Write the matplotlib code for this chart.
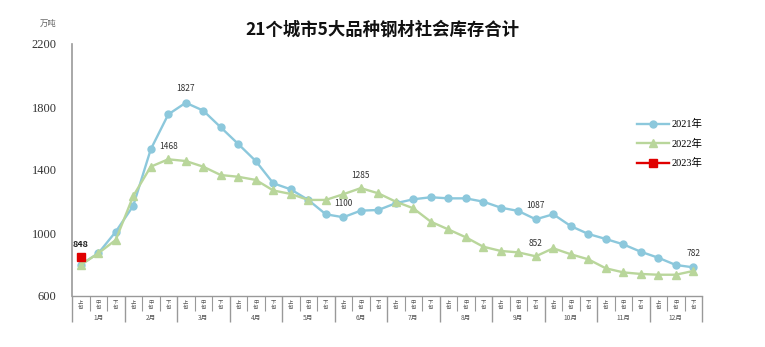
import matplotlib
matplotlib.use("Agg")
import matplotlib.pyplot as plt
import matplotlib.transforms as mtransforms

plt.rcParams['font.family'] = ['Noto Sans CJK SC', 'DejaVu Sans']

months = [f"{m}月" for m in range(1, 13)]
periods = ["上\n旬", "中\n旬", "下\n旬"]

s2021 = [800, 871, 1008, 1173, 1531, 1753, 1827, 1777, 1671, 1565,
         1457, 1316, 1277, 1210, 1119, 1100, 1142, 1146, 1189, 1214,
         1227, 1220, 1220, 1199, 1161, 1140, 1087, 1119, 1044, 994,
         962, 928, 881, 843, 797, 782]
s2022 = [797, 871, 956, 1235, 1421, 1468, 1457, 1421, 1368, 1357,
         1337, 1270, 1248, 1210, 1210, 1246, 1285, 1252, 1199, 1157,
         1072, 1023, 973, 913, 886, 877, 852, 903, 865, 833,
         776, 750, 740, 735, 735, 759]
s2023 = [848]

ann2021 = {6: "1827", 15: "1100", 26: "1087", 35: "782"}
ann2022 = {5: "1468", 16: "1285", 26: "852"}

c21 = "#8cc8dc"
c22 = "#b9d69b"
c23 = "#e00000"

fig = plt.figure(figsize=(7.65, 3.47), dpi=100)
ax = fig.add_axes([72/765, 51/347, 630/765, 252/347])

x = list(range(len(s2021)))
ax.plot(x, s2021, color=c21, lw=1.7, marker='o', ms=5, label="2021年", zorder=3)
ax.plot(x, s2022, color=c22, lw=1.7, marker='^', ms=5.5, label="2022年", zorder=3)
ax.plot(range(len(s2023)), s2023, color=c23, lw=1.7, marker='s', ms=6, label="2023年", zorder=4)

ax.set_xlim(-0.5, 35.5)
ax.set_ylim(600, 2200)
ax.set_yticks([600, 1000, 1400, 1800, 2200])
ax.set_yticklabels(["600", "1000", "1400", "1800", "2200"],
                   family=['Liberation Serif'], fontsize=9, color="#333333")
ax.tick_params(axis='y', length=0, pad=11)

for sp in ['top', 'right']:
    ax.spines[sp].set_visible(False)
ax.spines['left'].set_color("#999999")
ax.spines['bottom'].set_color("#999999")
ax.spines['left'].set_linewidth(1.2)
ax.spines['bottom'].set_linewidth(1.0)

# x ticks: boundaries
ax.set_xticks([i * 3 - 0.5 for i in range(13)])
ax.set_xticklabels([])
ax.set_xticks([i - 0.5 for i in range(37) if i % 3 != 0], minor=True)
ax.tick_params(axis='x', which='major', length=19, color="#999999", width=1.0, direction='out')
ax.tick_params(axis='x', which='minor', length=11, color="#999999", width=0.8, direction='out')

trans = mtransforms.blended_transform_factory(ax.transData, ax.transAxes)
for i in range(36):
    ax.text(i, -0.036, periods[i % 3], transform=trans, ha='center', va='center',
            fontsize=3.8, color="#555555", linespacing=0.95)
for m in range(12):
    ax.text(m * 3 + 1, -0.088, months[m], transform=trans, ha='center', va='center',
            fontsize=4.8, color="#555555")

# annotations
for i, t in ann2021.items():
    style = 'normal' if i in (6, 15, 26) else 'italic'
    ax.annotate(t, (i, s2021[i]), xytext=(0, 7), textcoords='offset points',
                ha='center', va='bottom', fontsize=6, style=style, color="#333333")
for i, t in ann2022.items():
    ax.annotate(t, (i, s2022[i]), xytext=(0, 6), textcoords='offset points',
                ha='center', va='bottom', fontsize=6, style='italic', color="#333333")
ax.annotate(str(s2023[0]), (0, s2023[0]), xytext=(0, 6), textcoords='offset points',
            ha='center', va='bottom', fontsize=6.5, fontweight='bold', color="#222222")

fig.legend(loc='upper left', bbox_to_anchor=(628/765, 1 - 110/347), frameon=False,
           handlelength=3, labelspacing=0.9, handletextpad=0.3,
           prop={'family': ['Liberation Serif', 'Noto Sans CJK SC'], 'size': 7.5})

fig.text(0.5, 1 - 30/347, "21个城市5大品种钢材社会库存合计", ha='center', va='center',
         fontsize=12.5, fontweight='bold', color="#111111")
fig.text(48/765, 1 - 23/347, "万吨", ha='center', va='center', fontsize=6, color="#666666")

fig.savefig("out.png", dpi=100, facecolor='white')
